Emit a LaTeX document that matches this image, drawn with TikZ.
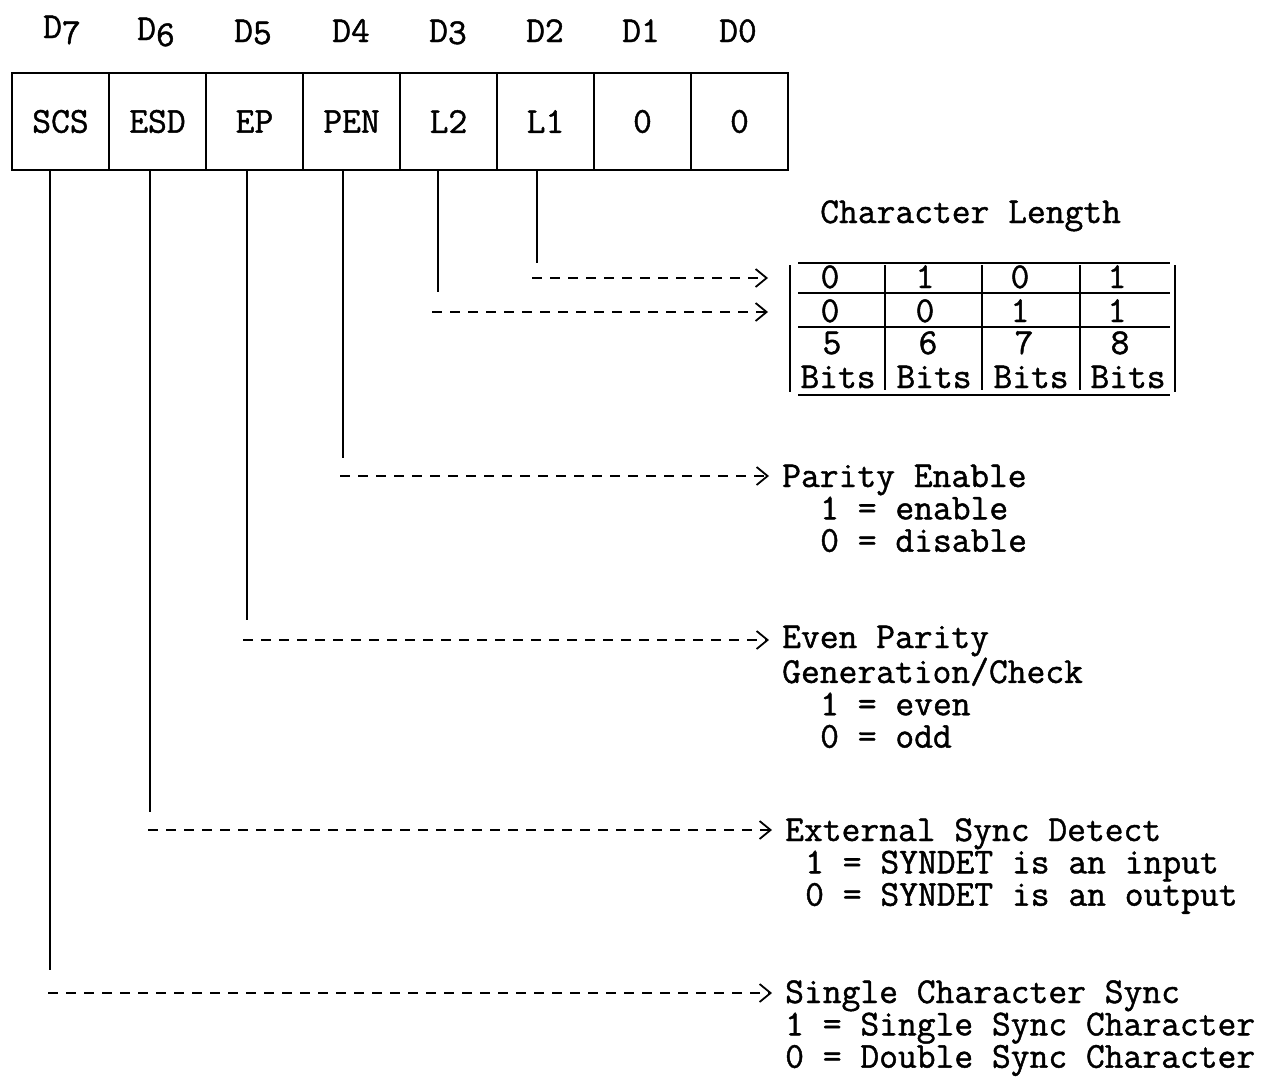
\documentclass[tikz,border=0pt]{standalone}
\usepackage{fontspec}
\usetikzlibrary{arrows.meta}
\newfontfamily\tw[FakeBold=1.2]{Latin Modern Mono}
\newcommand{\twsize}{\fontsize{36.5}{32}\selectfont}
\newcommand{\lowdig}[1]{\raisebox{-6pt}{#1}}
\newcommand{\ind}[1]{\hspace*{#1}}
\begin{document}
\begin{tikzpicture}[x=1pt,y=-1pt,
  every node/.style={font=\tw\twsize, inner sep=0pt},
  cell/.style={draw, line width=2.2pt, minimum width=97pt, minimum height=97pt},
  bitlbl/.style={anchor=base},
  txt/.style={anchor=base west},
  lead/.style={line width=1.8pt},
  arr/.style={line width=1.8pt, dash pattern=on 10pt off 8pt,
    -{Straight Barb[length=11pt,width=18pt,line width=1.8pt]}},
  tline/.style={line width=2.2pt},
  tval/.style={anchor=base}]
\useasboundingbox (0,0) rectangle (1284,1076);

% register cells
\node[cell] (c7) at (60.5,121.5) {SCS};
\node[cell] (c6) at (157.5,121.5) {ESD};
\node[cell] (c5) at (254.5,121.5) {EP};
\node[cell] (c4) at (351.5,121.5) {PEN};
\node[cell] (c3) at (448.5,121.5) {L2};
\node[cell] (c2) at (545.5,121.5) {L1};
\node[cell] (c1) at (642.5,121.5) {0};
\node[cell] (c0) at (739.5,121.5) {0};

% bit labels
\node[bitlbl] (d7) at (62,38) {D\lowdig{7}};
\node[bitlbl] (d6) at (156,40) {D\lowdig{6}};
\node[bitlbl] (d5) at (253,42) {D\raisebox{-2pt}{5}};
\node[bitlbl] (d4) at (351,42) {D4};
\node[bitlbl] (d3) at (448,42) {D\raisebox{-2pt}{3}};
\node[bitlbl] (d2) at (545,42) {D2};
\node[bitlbl] (d1) at (641,42) {D1};
\node[bitlbl] (d0) at (738,42) {D0};

% right-hand texts
\node[txt] (cl) at (820,223) {Character Length};
\node[txt] (pe) at (782,487) {\begin{tabular}[t]{@{}l@{}}Parity Enable\\\ind{38pt}1 = enable\\\ind{38pt}0 = disable\end{tabular}};
\node[txt] (ep) at (782,648) {\begin{tabular}[t]{@{}l@{}}Even Parity\\Generation/Check\\\ind{38pt}1 = even\\\ind{38pt}0 = odd\end{tabular}};
\node[txt] (es) at (785,841) {\begin{tabular}[t]{@{}l@{}}External Sync Detect\\\ind{20pt}1 = SYNDET is an input\\\ind{20pt}0 = SYNDET is an output\end{tabular}};
\node[txt] (sc) at (785,1003) {\begin{tabular}[t]{@{}l@{}}Single Character Sync\\1 = Single Sync Character\\0 = Double Sync Character\end{tabular}};

% character length table
\coordinate (tl) at (790,263);
\coordinate (tr) at (1175,263);
\draw[tline] (798,263) -- (1170,263);
\draw[tline] (798,293) -- (1170,293);
\draw[tline] (798,327) -- (1170,327);
\draw[tline] (798,395) -- (1170,395);
\draw[line width=1.8pt] (790,265) -- (790,392);
\draw[line width=1.8pt] (1175,265) -- (1175,392);
\foreach \x in {885,982,1080} \draw[line width=1.8pt] (\x,265) -- (\x,390);
\node[tval] (r11) at (830,288) {0};
\node[tval] (r12) at (925,288) {1};
\node[tval] (r13) at (1020,288) {0};
\node[tval] (r14) at (1117,288) {1};
\node[tval] (r21) at (830,322) {0};
\node[tval] (r22) at (925,322) {0};
\node[tval] (r23) at (1020,322) {1};
\node[tval] (r24) at (1117,322) {1};
\node[tval] (r31) at (832,354) {5};
\node[tval] (r32) at (928,354) {6};
\node[tval] (r33) at (1024,354) {7};
\node[tval] (r34) at (1120,354) {8};
\node[tval] (b1) at (838,388) {Bits};
\node[tval] (b2) at (934,388) {Bits};
\node[tval] (b3) at (1031,388) {Bits};
\node[tval] (b4) at (1128,388) {Bits};

% leads from the register
\coordinate (e7) at (50,970);  \coordinate (s7) at (48,993);
\coordinate (e6) at (150,812); \coordinate (s6) at (148,830);
\coordinate (e5) at (247,620); \coordinate (s5) at (243,640);
\coordinate (e4) at (343,458); \coordinate (s4) at (340,476);
\coordinate (e3) at (438,292); \coordinate (s3) at (432,312);
\coordinate (e2) at (537,263); \coordinate (s2) at (532,278);

\draw[lead] ([xshift=-10.5pt]c7.south) -- (e7);
\draw[lead] ([xshift=-7.5pt]c6.south) -- (e6);
\draw[lead] ([xshift=-7.5pt]c5.south) -- (e5);
\draw[lead] ([xshift=-8.5pt]c4.south) -- (e4);
\draw[lead] ([xshift=-10.5pt]c3.south) -- (e3);
\draw[lead] ([xshift=-8.5pt]c2.south) -- (e2);

\draw[arr, shorten >=13pt] (s7) -- (s7 -| sc.west);
\draw[arr, shorten >=13pt] (s6) -- (s6 -| es.west);
\draw[arr, shorten >=13pt] (s5) -- (s5 -| ep.west);
\draw[arr, shorten >=13pt] (s4) -- (s4 -| pe.west);
\draw[arr, shorten >=22pt] (s3) -- (s3 -| tl);
\draw[arr, shorten >=22pt] (s2) -- (s2 -| tl);
\end{tikzpicture}
\end{document}
